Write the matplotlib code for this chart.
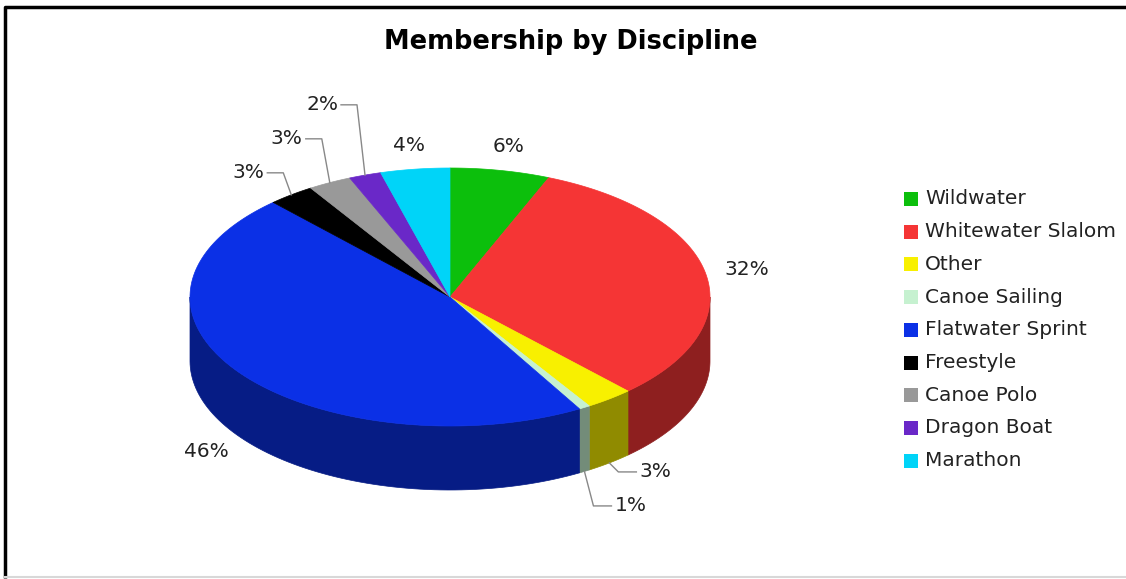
import numpy as np
import matplotlib.pyplot as plt
from matplotlib.patches import Polygon, Rectangle
from matplotlib.colors import to_rgb

title = "Membership by Discipline"
disciplines = ["Wildwater", "Whitewater Slalom", "Other", "Canoe Sailing",
               "Flatwater Sprint", "Freestyle", "Canoe Polo", "Dragon Boat", "Marathon"]
share = [6.2, 31.8, 3.0, 0.7, 46.4, 2.9, 2.7, 2.0, 4.3]
colors = ["#0cbf0c", "#f53535", "#f8f000", "#c6f1d0", "#0b30e6",
          "#000000", "#999999", "#6a28c8", "#00d4f8"]

W, H = 1126, 579
fig = plt.figure(figsize=(W / 100, H / 100), dpi=100)
ax = fig.add_axes([0, 0, 1, 1])
ax.set_xlim(0, W)
ax.set_ylim(H, 0)
ax.axis("off")

# pie geometry (pixel space)
cx, cy, rx, ry, depth = 450, 297, 260, 129, 64
label_size = 14.5


def ell(theta, dy=0.0, sx=rx, sy=ry):
    t = np.radians(theta)
    return cx + sx * np.sin(t), cy - sy * np.cos(t) + dy


def darker(c, f=0.58):
    return tuple(v * f for v in to_rgb(c))


angles = np.concatenate([[0], np.cumsum(share) / np.sum(share) * 360])

# front side walls
for i, col in enumerate(colors):
    a0, a1 = max(angles[i], 90), min(angles[i + 1], 270)
    if a1 <= a0:
        continue
    t = np.linspace(a0, a1, 80)
    xt, yt = ell(t)
    xb, yb = ell(t[::-1], depth)
    pts = np.column_stack([np.concatenate([xt, xb]), np.concatenate([yt, yb])])
    ax.add_patch(Polygon(pts, closed=True, fc=darker(col), ec=darker(col), lw=0.5))

# top faces
for i, col in enumerate(colors):
    t = np.linspace(angles[i], angles[i + 1], 120)
    xt, yt = ell(t)
    pts = np.column_stack([np.concatenate([[cx], xt]), np.concatenate([[cy], yt])])
    ax.add_patch(Polygon(pts, closed=True, fc=col, ec=col, lw=0.5))

# percentage labels
front_small, back_small = [], []
for i, v in enumerate(share):
    mid = (angles[i] + angles[i + 1]) / 2
    front = 90 < mid < 270
    txt = f"{round(v):.0f}%"
    if v >= 4:
        x, y = ell(mid, depth if front else 0, rx + 42, ry + 24)
        ax.text(x, y, txt, fontsize=label_size, ha="center", va="center", color="#222222")
    elif front:
        front_small.append((mid, txt))
    else:
        back_small.append((mid, txt))

lc = "#888888"
if front_small:
    base = ell(front_small[0][0], depth)[1]
    for j, (mid, txt) in enumerate(front_small):
        ax_, ay_ = ell(mid, depth)
        ex, ey = ax_ + 9, base + 9 + 34 * j
        ax.plot([ax_, ex, ex + 18], [ay_, ey, ey], color=lc, lw=1)
        ax.text(ex + 21, ey, txt, fontsize=label_size, ha="left", va="center", color="#222222")
if back_small:
    base = ell(back_small[0][0])[1]
    for j, (mid, txt) in enumerate(back_small):
        ax_, ay_ = ell(mid)
        ex, ey = ax_ - 8, base - 22 - 34 * j
        ax.plot([ax_, ex, ex - 16], [ay_, ey, ey], color=lc, lw=1)
        ax.text(ex - 19, ey, txt, fontsize=label_size, ha="right", va="center", color="#222222")

ax.text(571, 42, title, fontsize=18.5, weight="bold", ha="center", va="center")

# legend
for i, (name, col) in enumerate(zip(disciplines, colors)):
    y = 199 + 32.7 * i
    ax.add_patch(Rectangle((904, y - 7), 14, 14, fc=col, ec="none"))
    ax.text(925, y, name, fontsize=14.5, ha="left", va="center", color="#222222")

# frame: dark left/top edges, faint bottom
ax.plot([5, 5, 1126], [578, 7, 7], color="black", lw=2.5, solid_capstyle="butt")
ax.plot([5, 1126], [577, 577], color="#d8d8d8", lw=1.5)

fig.savefig("out.png", dpi=100)
